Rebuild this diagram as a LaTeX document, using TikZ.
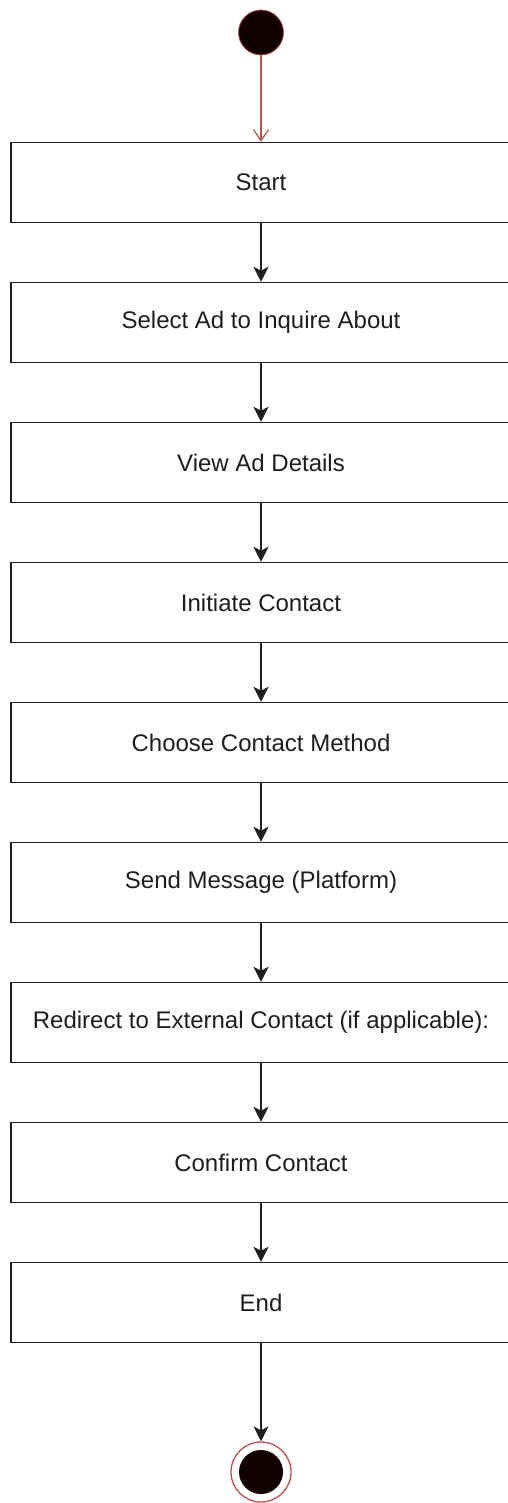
\documentclass[tikz,border=0pt]{standalone}
\usepackage{fontspec}
\setmainfont{Liberation Sans}
\usetikzlibrary{arrows.meta}
\definecolor{ink}{HTML}{1E1E1E}
\definecolor{umlred}{HTML}{C0504D}
\definecolor{darkdot}{HTML}{120000}
\begin{document}
\begin{tikzpicture}[x=1pt,y=-1pt,
  act/.style={draw=ink, line width=1.5pt, fill=white,
    minimum width=500pt, minimum height=80pt, inner sep=0pt,
    font=\fontsize{24}{28}\selectfont, text=ink},
  flow/.style={draw=ink, line width=1.5pt,
    -{Stealth[length=15pt,width=15pt,inset=4pt]}},
  startflow/.style={draw=umlred, line width=1.2pt,
    -{Straight Barb[length=11pt,width=15pt,line width=1.2pt]}},
  initdot/.style={circle, fill=darkdot, draw=umlred, line width=0.8pt,
    minimum size=45pt, inner sep=0pt},
  finalring/.style={circle, fill=white, draw=umlred, line width=1.3pt,
    minimum size=60pt, inner sep=0pt}]
\useasboundingbox (0,0) rectangle (507,1503);
\fill[white] (0,0) rectangle (507,1503);

% initial state
\node[initdot] (init) at (261,32.5) {};

% activities
\node[act] (a1) at (261,182.5)  {Start};
\node[act] (a2) at (261,322.5)  {Select Ad to Inquire About};
\node[act] (a3) at (261,462.5)  {View Ad Details};
\node[act] (a4) at (261,602.5)  {Initiate Contact};
\node[act] (a5) at (261,742.5)  {Choose Contact Method};
\node[act] (a6) at (261,882.5)  {Send Message (Platform)};
\node[act] (a7) at (261,1022.5) {Redirect to External Contact (if applicable):};
\node[act] (a8) at (261,1162.5) {Confirm Contact};
\node[act] (a9) at (261,1302.5) {End};

% final state
\node[finalring] (final) at (261,1472) {};
\fill[darkdot] (final.center) circle[radius=22pt];

% transitions
\draw[startflow] (init) -- (a1);
\draw[flow] (a1) -- (a2);
\draw[flow] (a2) -- (a3);
\draw[flow] (a3) -- (a4);
\draw[flow] (a4) -- (a5);
\draw[flow] (a5) -- (a6);
\draw[flow] (a6) -- (a7);
\draw[flow] (a7) -- (a8);
\draw[flow] (a8) -- (a9);
\draw[flow] (a9) -- (final);
\end{tikzpicture}
\end{document}
